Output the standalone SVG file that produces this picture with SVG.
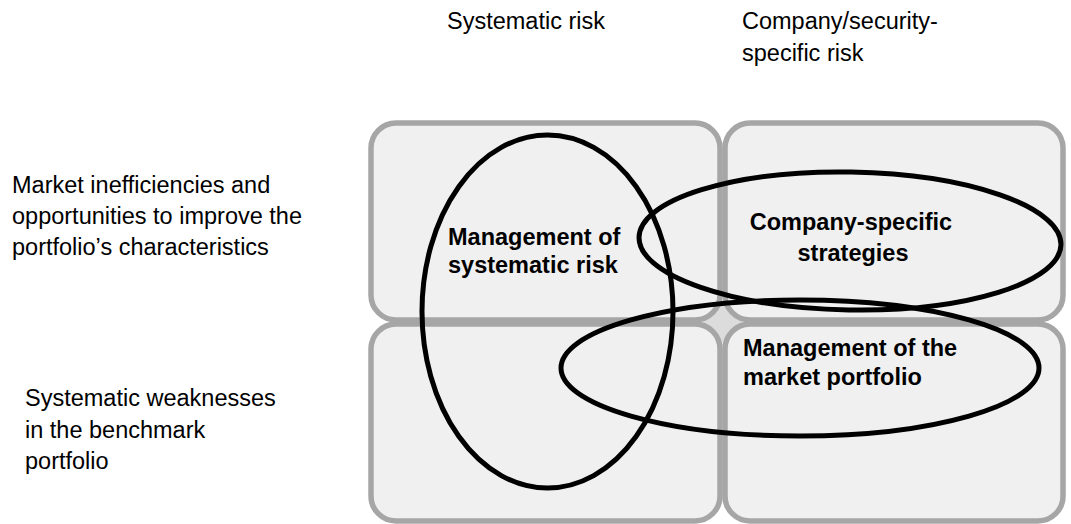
<svg xmlns="http://www.w3.org/2000/svg" width="1071" height="524" viewBox="0 0 1071 524">
<style>
.cell{fill:#f0f0f0;stroke:#a6a6a6;stroke-width:5.5}
.ring{fill:none;stroke:#000;stroke-width:5}
.lbl{font-family:"Liberation Sans",Arial,sans-serif;font-size:23.5px;fill:#000}
.bold{font-family:"Liberation Sans",Arial,sans-serif;font-size:23.5px;font-weight:bold;fill:#000}
</style>
<rect width="1071" height="524" fill="#ffffff"/>
<g id="headers">
<text class="lbl" x="447" y="29">Systematic risk</text>
<text class="lbl" x="742" y="29">Company/security-</text>
<text class="lbl" x="742" y="61">specific risk</text>
<text class="lbl" x="12" y="193">Market inefficiencies and</text>
<text class="lbl" x="12" y="224">opportunities to improve the</text>
<text class="lbl" x="12" y="255">portfolio’s characteristics</text>
<text class="lbl" x="25" y="406">Systematic weaknesses</text>
<text class="lbl" x="25" y="438">in the benchmark</text>
<text class="lbl" x="25" y="469">portfolio</text>
</g>
<g id="matrix">
<rect x="707" y="307" width="30" height="30" fill="#dcdcdc" transform="rotate(45 722 322)"/>
<rect id="cell-tl" class="cell" x="371" y="123" width="349" height="197" rx="25"/>
<rect id="cell-tr" class="cell" x="725" y="123" width="338" height="197" rx="25"/>
<rect id="cell-bl" class="cell" x="371" y="324" width="349" height="197" rx="25"/>
<rect id="cell-br" class="cell" x="725" y="324" width="338" height="197" rx="25"/>
</g>
<g id="connectors">
<ellipse id="ring-systematic" class="ring" cx="547.5" cy="311.5" rx="125.5" ry="176.5"/>
<ellipse id="ring-company" class="ring" cx="850" cy="241" rx="211" ry="69" transform="rotate(1 850 241)"/>
<ellipse id="ring-market" class="ring" cx="800" cy="368" rx="239" ry="68"/>
</g>
<g id="node-systematic">
<text class="bold" x="448" y="245">Management of</text>
<text class="bold" x="448" y="273">systematic risk</text>
</g>
<g id="node-company">
<text class="bold" x="851" y="230" text-anchor="middle">Company-specific</text>
<text class="bold" x="853" y="261" text-anchor="middle">strategies</text>
</g>
<g id="node-market">
<text class="bold" x="743" y="356">Management of the</text>
<text class="bold" x="743" y="385">market portfolio</text>
</g>
</svg>
